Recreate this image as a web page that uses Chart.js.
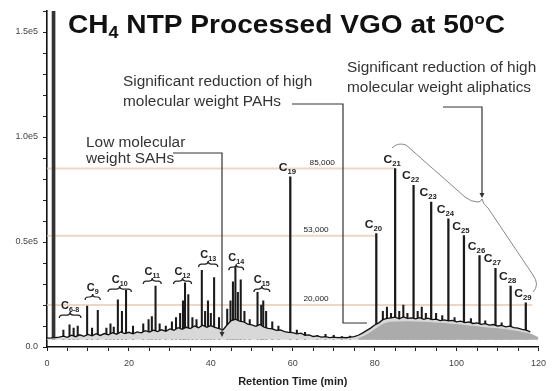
<!DOCTYPE html>
<html lang="en">
<head>
<meta charset="UTF-8" />
<title>CH4 NTP Processed VGO at 50oC</title>
<script src="https://cdn.jsdelivr.net/npm/chart.js"></script>
<style>
  body { margin: 0; background: #fff; }
  #wrap { width: 553px; height: 391px; }
</style>
</head>
<body>
<div id="wrap"><canvas id="gc" width="553" height="391"></canvas></div>
<script>
  // retention time (min) vs detector signal
  const traceTime = [0, 1, 2, 3, 4, 5, 6, 7, 8, 9, 10, 11, 12, 13, 14, 15, 16, 17, 18, 19, 20,
    21, 22, 23, 24, 25, 26, 27, 28, 29, 30, 31, 32, 33, 34, 35, 36, 37, 38, 39, 40,
    41, 42, 43, 44, 45, 46, 47, 48, 49, 50, 51, 52, 53, 54, 55, 56, 57, 58, 59, 60,
    61, 62, 63, 64, 65, 66, 67, 68, 69, 70, 71, 72, 73, 74, 75, 76, 77, 78, 79, 80,
    81, 82, 83, 84, 85, 86, 87, 88, 89, 90, 91, 92, 93, 94, 95, 96, 97, 98, 99, 100,
    101, 102, 103, 104, 105, 106, 107, 108, 109, 110, 111, 112, 113, 114, 115, 116, 117, 118];
  const traceSignal = [4200, 4300, 4500, 4700, 5200, 4600, 5600, 4900, 5800, 5100, 6000, 5300, 6300, 5500, 6400, 5800, 6800, 6100, 7200, 6400, 7000,
    6300, 7200, 6700, 7800, 7100, 8000, 7300, 8200, 7500, 8600, 8000, 9200, 8400, 9400, 8800, 10000, 9200, 10400, 9400, 10200,
    9300, 8700, 8200, 10600, 12600, 13200, 12300, 12000, 10900, 10500, 9800, 10700, 9400, 8900, 8600, 7900, 8100, 7300, 7000, 6800,
    6300, 6600, 5600, 5800, 5000, 5300, 4700, 4900, 4500, 4700, 4500, 4600, 4400, 4700, 4900, 5600, 6600, 7800, 9000, 10500,
    11500, 13000, 13600, 13900, 14200, 13400, 14300, 13600, 13900, 13400, 14000, 13200, 13700, 13000, 13300, 12600, 12900, 12400, 12700, 12000,
    12300, 11600, 11900, 11200, 11500, 10800, 11100, 10400, 10700, 10000, 10300, 9600, 9900, 9200, 9000, 8400, 8000, 7200];

  // unresolved hump under the heavy end
  const humpTime = [76, 78, 80, 82, 84, 86, 88, 90, 92, 94, 96, 98, 100, 102, 104, 106, 108, 110, 112, 114, 116, 118, 120];
  const humpSignal = [4200, 6000, 8500, 11000, 12000, 12200, 12300, 12200, 12000, 11800, 11500, 11200, 10900, 10500, 10100, 9700, 9300, 8900, 8400, 7800, 7200, 6400, 4600];

  // minor peaks
  const peakTime = [4.0, 5.5, 6.5, 7.5, 9.8, 11.0, 12.4, 14.5, 15.5, 16.3,
    17.3, 18.3, 19.3, 21.0, 23.5, 24.8, 25.6, 26.5, 27.5, 29.0,
    30.5, 31.5, 32.5, 33.2, 33.7, 34.5, 35.5, 36.5, 37.8, 38.6,
    39.3, 40.0, 40.8, 42.0, 44.0, 44.8, 45.4, 46.0, 46.6, 47.3,
    48.2, 49.5, 51.4, 52.3, 52.8, 53.5, 55.0, 56.5, 61.0, 63.0,
    66.0, 68.0, 70.0, 72.0, 74.0, 82.0, 83.0, 84.0, 86.0, 87.0,
    88.0, 90.5, 91.5, 92.5, 95.0, 96.5, 99.5, 103.5, 107.0, 111.0];
  const peakHeight = [8000, 10500, 9000, 10000, 19500, 9000, 17500, 9000, 11000, 9500,
    22500, 17000, 27000, 10000, 11000, 13000, 14500, 29000, 11000, 10000,
    12000, 14000, 16000, 22000, 30500, 25000, 14000, 13000, 36500, 17000,
    22000, 16000, 33000, 14000, 18000, 22000, 31000, 38000, 26000, 32000,
    17000, 13000, 26000, 20000, 22000, 17000, 12000, 10000, 8000, 7000,
    5500, 6000, 5500, 5000, 5200, 17000, 19000, 16000, 17000, 20000,
    16000, 17000, 19000, 16000, 16000, 15000, 14000, 13500, 12500, 11500];

  // solvent front (off scale)
  const solventTime = [1.6];
  const solventHeight = [175000];

  // n-alkanes C19 - C29
  const alkaneLabels = ['19', '20', '21', '22', '23', '24', '25', '26', '27', '28', '29'];
  const alkaneTime = [59.4, 80.4, 85.0, 89.5, 93.8, 98.0, 101.8, 105.6, 109.5, 113.2, 116.9];
  const alkaneHeight = [81000, 54000, 85000, 77000, 69000, 61000, 53000, 43500, 37500, 29000, 21000];

  // bracketed groups of the light end
  const groupLabels = ['6-8', '9', '10', '11', '12', '13', '14', '15'];
  const groupStart = [3.0, 9.3, 14.9, 23.5, 30.9, 37.0, 44.4, 50.5];
  const groupEnd = [8.3, 13.0, 20.6, 27.9, 35.3, 41.7, 48.0, 54.4];
  const groupLevel = [15200, 23800, 27600, 31400, 31400, 39500, 38000, 27600];

  // reference levels
  const refLevels = [85000, 53000, 20000];
  const refLabels = ['85,000', '53,000', '20,000'];
  const refEnds = [85.0, 80.4, 118.5];
  const refLabelTime = [67.2, 65.7, 65.7];

  const xTickValues = [0, 5, 10, 15, 20, 25, 30, 35, 40, 45, 50, 55, 60, 65, 70, 75, 80, 85, 90, 95, 100, 105, 110, 115, 120];
  const xTickText = ['0', '', '', '', '20', '', '', '', '40', '', '', '', '60', '', '', '', '80', '', '', '', '100', '', '', '', '120'];
  const yTickValues = [0, 10000, 20000, 30000, 40000, 50000, 60000, 70000, 80000, 90000, 100000, 110000, 120000, 130000, 140000, 150000, 160000];
  const yTickText = ['0.0', '', '', '', '', '0.5e5', '', '', '', '', '1.0e5', '', '', '', '', '1.5e5', ''];

  const baseLevel = 3500;
  const FONT = "'Liberation Sans', Arial, sans-serif";
  const SX = 1.1; // the source image is a bit stretched sideways

  Chart.defaults.font.family = FONT;

  function partsWidth(ctx, parts) {
    let w = 0;
    for (const p of parts) { ctx.font = p[1]; w += ctx.measureText(p[0]).width; }
    return w;
  }

  // draw text pieces (sub/superscripts) starting at x, or centred on x
  function richText(ctx, parts, x, y, sx, center) {
    ctx.save();
    const w = partsWidth(ctx, parts) * sx;
    ctx.translate(center ? x - w / 2 : x, y);
    ctx.scale(sx, 1);
    ctx.textAlign = 'left';
    ctx.textBaseline = 'alphabetic';
    let cx = 0;
    for (const p of parts) {
      ctx.font = p[1];
      ctx.fillText(p[0], cx, p[2] || 0);
      cx += ctx.measureText(p[0]).width;
    }
    ctx.restore();
  }

  function overBrace(ctx, x0, x1, yb) {
    const xm = (x0 + x1) / 2, h = 3;
    ctx.beginPath();
    ctx.moveTo(x0, yb + h);
    ctx.quadraticCurveTo(x0, yb, x0 + h, yb);
    ctx.lineTo(xm - h, yb);
    ctx.quadraticCurveTo(xm, yb, xm, yb - h);
    ctx.quadraticCurveTo(xm, yb, xm + h, yb);
    ctx.lineTo(x1 - h, yb);
    ctx.quadraticCurveTo(x1, yb, x1, yb + h);
    ctx.stroke();
  }

  function arrowDown(ctx, x, y) {
    ctx.beginPath();
    ctx.moveTo(x, y);
    ctx.lineTo(x - 2.5, y - 5);
    ctx.lineTo(x + 2.5, y - 5);
    ctx.closePath();
    ctx.fill();
  }

  const annotate = {
    id: 'annotate',
    afterDatasetsDraw(chart) {
      const { ctx, scales: { x, y } } = chart;
      ctx.save();
      ctx.fillStyle = '#222';
      ctx.strokeStyle = '#222';

      // reference level labels
      refLabels.forEach((lab, i) => {
        richText(ctx, [[lab, '7.5px ' + FONT]], x.getPixelForValue(refLabelTime[i]), y.getPixelForValue(refLevels[i]) - 4, SX, true);
      });

      // alkane labels
      alkaneLabels.forEach((n, i) => {
        const px = x.getPixelForValue(alkaneTime[i]) - 3;
        const py = y.getPixelForValue(alkaneHeight[i]) - 6;
        richText(ctx, [['C', 'bold 11px ' + FONT], [n, 'bold 7px ' + FONT, 3]], px, py, SX, true);
      });

      // grouped light-end labels with over braces
      ctx.lineWidth = 1.2;
      groupLabels.forEach((n, i) => {
        const x0 = x.getPixelForValue(groupStart[i]);
        const x1 = x.getPixelForValue(groupEnd[i]);
        const yb = y.getPixelForValue(groupLevel[i]);
        overBrace(ctx, x0, x1, yb);
        richText(ctx, [['C', 'bold 10px ' + FONT], [n, 'bold 6.5px ' + FONT, 3]], (x0 + x1) / 2, yb - 6, SX, true);
      });

      // callouts
      ctx.fillStyle = '#333';
      const f14 = '14px ' + FONT;
      richText(ctx, [['Significant reduction of high', f14]], 123, 86, SX);
      richText(ctx, [['molecular weight PAHs', f14]], 123, 106, SX);
      richText(ctx, [['Significant reduction of high', f14]], 347, 72, SX);
      richText(ctx, [['molecular weight aliphatics', f14]], 347, 92, SX);
      richText(ctx, [['Low molecular', f14]], 86, 147, SX);
      richText(ctx, [['weight SAHs', f14]], 86, 163, SX);

      ctx.strokeStyle = '#333';
      ctx.fillStyle = '#333';
      ctx.lineWidth = 1.2;
      ctx.beginPath();
      ctx.moveTo(173, 153); ctx.lineTo(222, 153); ctx.lineTo(222, 333);
      ctx.moveTo(292, 104); ctx.lineTo(343, 104); ctx.lineTo(343, 323); ctx.lineTo(367, 323);
      ctx.moveTo(443, 107); ctx.lineTo(482, 107); ctx.lineTo(482, 193);
      ctx.stroke();
      arrowDown(ctx, 222, 337);
      arrowDown(ctx, 482, 198);

      // brace over the C21-C29 envelope
      ctx.strokeStyle = '#888';
      ctx.lineWidth = 1;
      ctx.beginPath();
      ctx.moveTo(392, 148);
      ctx.quadraticCurveTo(398, 142, 406, 145);
      ctx.lineTo(465, 197);
      ctx.quadraticCurveTo(471, 202, 478, 202);
      ctx.quadraticCurveTo(481, 202, 482, 199);
      ctx.moveTo(482, 199);
      ctx.quadraticCurveTo(483, 204, 488, 208);
      ctx.lineTo(533, 275);
      ctx.quadraticCurveTo(540, 285, 533, 292);
      ctx.stroke();
      ctx.restore();
    },
    afterDraw(chart) {
      const ctx = chart.ctx;
      const big = 'bold 25px ' + FONT;
      const parts = [['CH', big], ['4', 'bold 16px ' + FONT, 5], [' NTP Processed VGO at 50', big], ['o', 'bold 15px ' + FONT, -9], ['C', big]];
      ctx.save();
      ctx.fillStyle = '#111';
      const sx = 437 / partsWidth(ctx, parts);
      richText(ctx, parts, 68, 33, sx);
      ctx.restore();
    }
  };

  const refSets = refLevels.map((lv, i) => ({
    type: 'line',
    data: [{ x: 0, y: lv }, { x: refEnds[i], y: lv }],
    borderColor: 'rgba(232, 200, 180, 0.75)',
    borderWidth: 2,
    pointRadius: 0,
    order: 7
  }));

  new Chart(document.getElementById('gc'), {
    type: 'line',
    data: {
      datasets: [
        ...refSets,
        {
          type: 'bar',
          data: peakTime.map((t, i) => ({ x: t, y: [baseLevel, peakHeight[i]] })),
          backgroundColor: '#1a1a1a',
          barThickness: 1.4,
          grouped: false,
          order: 6
        },
        {
          type: 'bar',
          data: alkaneTime.map((t, i) => ({ x: t, y: [baseLevel, alkaneHeight[i]] })),
          backgroundColor: '#1a1a1a',
          barThickness: 1.6,
          grouped: false,
          order: 5
        },
        {
          type: 'bar',
          data: solventTime.map((t, i) => ({ x: t, y: [baseLevel, solventHeight[i]] })),
          backgroundColor: '#333',
          barThickness: 3,
          grouped: false,
          order: 5
        },
        {
          type: 'line',
          data: traceTime.map((t, i) => ({ x: t, y: traceSignal[i] })),
          borderColor: '#111',
          borderWidth: 1.3,
          backgroundColor: '#d8d8d8',
          fill: { value: baseLevel },
          pointRadius: 0,
          tension: 0,
          order: 4
        },
        {
          type: 'line',
          data: humpTime.map((t, i) => ({ x: t, y: humpSignal[i] })),
          borderWidth: 0,
          borderColor: 'rgba(0,0,0,0)',
          backgroundColor: '#ababab',
          fill: { value: baseLevel },
          pointRadius: 0,
          tension: 0.3,
          order: 3
        }
      ]
    },
    options: {
      responsive: false,
      animation: false,
      devicePixelRatio: 1,
      layout: { padding: { top: 11, right: 13, left: 0, bottom: 0 } },
      plugins: { legend: { display: false }, tooltip: { enabled: false } },
      scales: {
        x: {
          type: 'linear',
          min: 0,
          max: 120,
          offset: false,
          afterBuildTicks: s => { s.ticks = xTickValues.map(v => ({ value: v })); },
          afterFit: s => { s.height = 44; },
          ticks: {
            autoSkip: false,
            maxRotation: 0,
            padding: 7,
            color: '#444',
            font: { size: 9 },
            callback: (v, i) => xTickText[i]
          },
          grid: { drawOnChartArea: false, tickLength: 4, color: '#222', offset: false },
          border: { color: '#111', width: 1.6 },
          title: {
            display: true,
            text: 'Retention Time (min)',
            color: '#222',
            font: { size: 11, weight: 'bold' },
            padding: { top: 0, bottom: 2 }
          }
        },
        y: {
          min: 0,
          max: 160000,
          afterBuildTicks: s => { s.ticks = yTickValues.map(v => ({ value: v })); },
          afterFit: s => { s.width = 47; },
          ticks: {
            autoSkip: false,
            padding: 5,
            color: '#444',
            font: { size: 9 },
            callback: (v, i) => yTickText[i]
          },
          grid: { drawOnChartArea: false, tickLength: 4, color: '#222' },
          border: { color: '#111', width: 1.6 }
        }
      }
    },
    plugins: [annotate]
  });
</script>
</body>
</html>
